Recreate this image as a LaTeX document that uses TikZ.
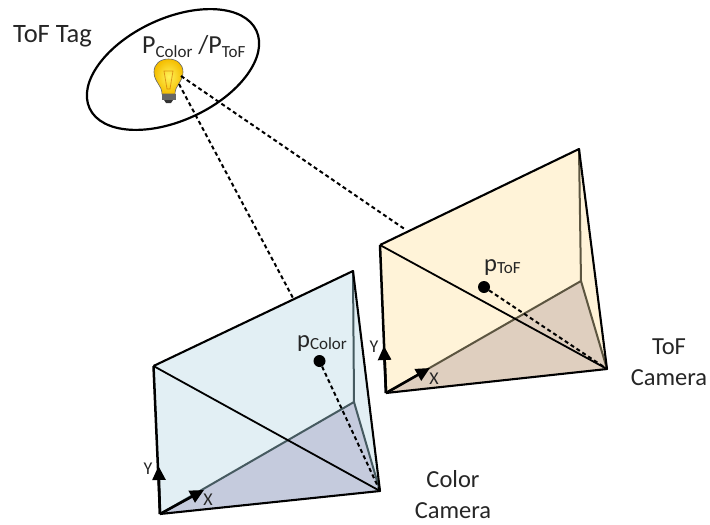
\documentclass[tikz,border=0pt]{standalone}
\usepackage{fontspec}
\setmainfont{Carlito}
\usetikzlibrary{arrows.meta,shapes.geometric}
\definecolor{txt}{HTML}{262626}
\definecolor{bluewall}{HTML}{E2EFF4}
\definecolor{bluefloor}{HTML}{C5CBDD}
\definecolor{bluein}{HTML}{465A60}
\definecolor{yelwall}{HTML}{FFF3D8}
\definecolor{yelfloor}{HTML}{DFCFBF}
\definecolor{yelin}{HTML}{5C5540}
\definecolor{bulbin}{HTML}{FFF25A}
\definecolor{bulbout}{HTML}{F5BE00}
\newcommand{\subt}[2][-4pt]{\raisebox{#1}{\fontsize{17}{18}\selectfont #2}}
\tikzset{
  lab/.style={inner sep=0pt,text=txt,font=\fontsize{24.5}{31}\selectfont,align=center},
  axlab/.style={inner sep=0pt,text=txt,font=\fontsize{18}{19}\selectfont},
  edge/.style={line width=2.1pt,black,line join=round},
  thinedge/.style={line width=1.8pt,black},
  inedge/.style={line width=2pt},
  ray/.style={line width=2pt,black,dash pattern=on 4pt off 3pt},
  axis/.style={line width=2.6pt,black,-{Triangle[length=14pt,width=13pt]}},
  dotn/.style={circle,fill=black,minimum size=12pt,inner sep=0pt}
}
\begin{document}
\begin{tikzpicture}[x=1pt,y=-1pt]
\useasboundingbox (0,0) rectangle (710,525);
% Tag
\node[draw=black,line width=2.2pt,ellipse,minimum width=184pt,minimum height=102pt,inner sep=0pt,rotate=25] (tag) at (173,69.5) {};
\node[lab,anchor=west,font=\fontsize{26.5}{31}\selectfont] (tagl) at (13,36) {ToF Tag};
\node[lab,anchor=west,font=\fontsize{26}{31}\selectfont] (pl) at (142,47) {P\subt{Color} /P\subt{ToF}};
% Bulb
\shade[inner color=bulbin,outer color=bulbout,draw=black!60,line width=.6pt]
  (162,94) .. controls (162,85) and (154,82) .. (154,72)
  .. controls (154,64) and (160,59) .. (168.5,59)
  .. controls (177,59) and (183,64) .. (183,72)
  .. controls (183,82) and (175,85) .. (175,94) -- cycle;
\draw[orange!80!black,line width=.8pt,opacity=.6] (164,71) -- (173,71) -- (170,89) -- (167,89) -- cycle;
\fill[black!60] (161.5,94) rectangle (175.5,100);
\fill[black!80] (164,100) -- (173,100) -- (171,103) -- (166,103) -- cycle;
\coordinate (bulbA) at (181,76);
\coordinate (bulbB) at (179,84);
% Color camera
\coordinate (cTL) at (153.5,366);
\coordinate (cTR) at (353,271);
\coordinate (cBR) at (380,491);
\coordinate (cBL) at (160,514);
\coordinate (cIn) at (354,402);
\coordinate (cHit) at (293,298);
\fill[bluewall] (cTL)--(cTR)--(cBR)--(cBL)--cycle;
\fill[bluefloor] (cBL)--(cIn)--(cBR)--cycle;
\draw[inedge,bluein] (cTR)--(cIn) (cIn)--(cBL) (cIn)--(cBR);
\draw[thinedge] (cTL)--(cBR);
\draw[edge] (cTL)--(cTR)--(cBR)--(cBL);
\draw[edge,line width=2.5pt] (cBL)--(cTL);
\node[dotn] (pc) at (319.5,361) {};
\node[lab,anchor=west] (pcl) at (297,344) {p\subt[-2pt]{Color}};
\draw[ray] (pc)--(cBR);
\draw[axis] (cBL)--(158.5,466);
\draw[axis] (cBL)--(204,490);
\node[axlab] (cy) at (148,469) {Y};
\node[axlab] (cx) at (208,500) {X};
\node[lab] (cc) at (453,495) {Color\\Camera};
% ToF camera
\coordinate (tTL) at (380,245);
\coordinate (tTR) at (579,149);
\coordinate (tBR) at (607,369);
\coordinate (tBL) at (386,393);
\coordinate (tIn) at (581,281);
\coordinate (tHit) at (406,230);
\fill[yelwall] (tTL)--(tTR)--(tBR)--(tBL)--cycle;
\fill[yelfloor] (tBL)--(tIn)--(tBR)--cycle;
\draw[inedge,yelin] (tTR)--(tIn) (tIn)--(tBL) (tIn)--(tBR);
\draw[thinedge] (tTL)--(tBR);
\draw[edge] (tTL)--(tTR)--(tBR)--(tBL);
\draw[edge,line width=2.5pt] (tBL)--(tTL);
\node[dotn] (pt) at (484,287) {};
\node[lab,anchor=west] (ptl) at (484,268) {p\subt[-2pt]{ToF}};
\draw[ray] (pt)--(tBR);
\draw[axis] (tBL)--(384,346);
\draw[axis] (tBL)--(430,368);
\node[axlab] (ty) at (374,347) {Y};
\node[axlab] (tx) at (434,379) {X};
\node[lab] (tc) at (669,362) {ToF\\Camera};
% Rays to tag
\draw[ray] (bulbA)--(tHit);
\draw[ray] (bulbB)--(cHit);
\end{tikzpicture}
\end{document}
